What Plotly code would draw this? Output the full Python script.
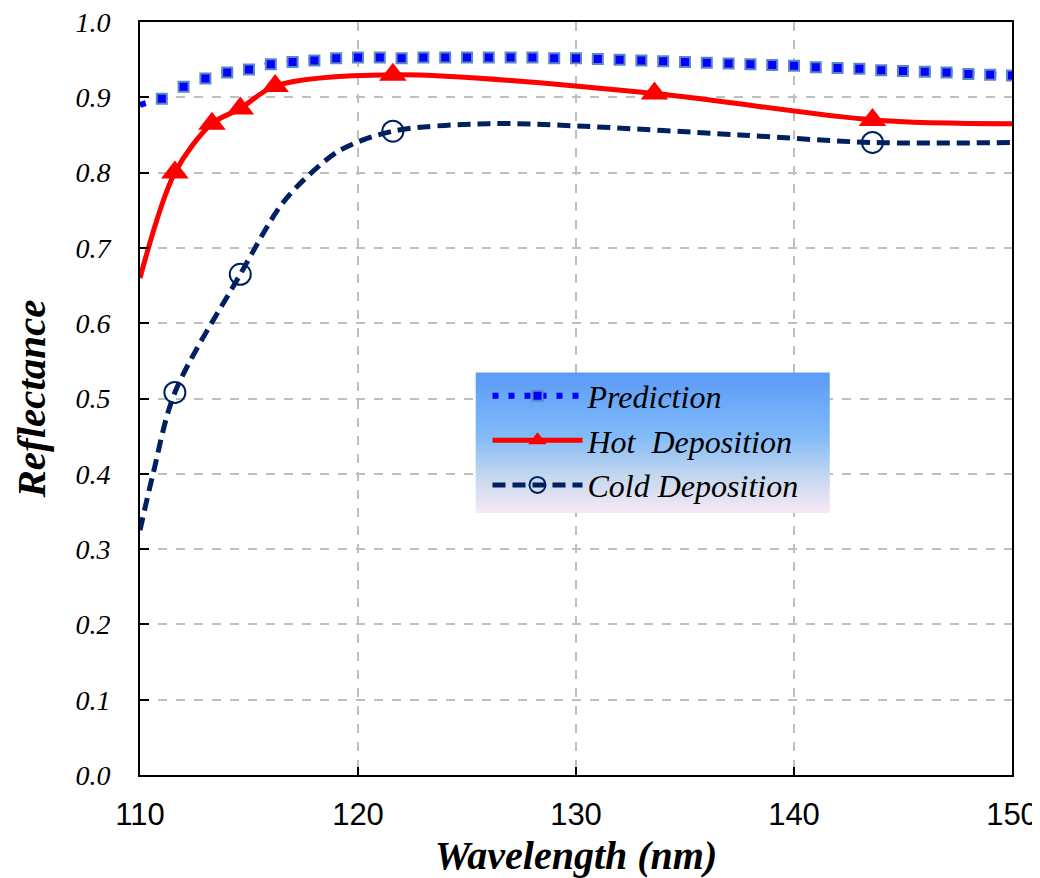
import plotly.graph_objects as go

# ---------------- data ----------------
pred_x = list(range(110, 151))
pred_y = [0.890, 0.898, 0.914, 0.925, 0.933, 0.937, 0.944, 0.947, 0.949, 0.952,
          0.953, 0.953, 0.952, 0.953, 0.953, 0.953, 0.953, 0.953, 0.953, 0.952,
          0.952, 0.951, 0.950, 0.949, 0.948, 0.947, 0.946, 0.945, 0.944, 0.943,
          0.942, 0.940, 0.939, 0.938, 0.936, 0.935, 0.934, 0.933, 0.931, 0.930,
          0.929]

hot_x = [110, 111.6, 113.3, 114.6, 116.2, 121.6, 133.6, 143.6, 150]
hot_y = [0.66, 0.80, 0.865, 0.885, 0.915, 0.93, 0.905, 0.87, 0.865]
hot_mx = [111.6, 113.3, 114.6, 116.2, 121.6, 133.6, 143.6]
hot_my = [0.80, 0.865, 0.885, 0.915, 0.93, 0.905, 0.87]

cold_x = [110, 110.6, 111.6, 114.6, 116.4, 117.5, 119.2, 121.6, 126, 130, 137.5, 143.6, 150]
cold_y = [0.325, 0.40, 0.508, 0.665, 0.754, 0.79, 0.83, 0.855, 0.865, 0.862, 0.85, 0.84, 0.84]
cold_mx = [111.6, 114.6, 121.6, 143.6]
cold_my = [0.508, 0.665, 0.855, 0.84]

x_ticks = [110, 120, 130, 140, 150]
y_ticks = [0.0, 0.1, 0.2, 0.3, 0.4, 0.5, 0.6, 0.7, 0.8, 0.9, 1.0]
names = ["Prediction", "Hot\u00a0 Deposition", "Cold Deposition"]

# ---------------- styles ----------------
BLUE = "#0000FF"
SQ_EDGE = "#5A87C8"
RED = "#FF0000"
NAVY = "#002060"
SERIF = "Liberation Serif, Times New Roman, serif"
NARROW = "Liberation Sans Narrow, Arial Narrow, Liberation Sans, sans-serif"

fig = go.Figure()

# Prediction
fig.add_trace(go.Scatter(x=pred_x, y=pred_y, mode="lines", showlegend=False,
                         line=dict(color=BLUE, width=6, dash="6px,16px")))
fig.add_trace(go.Scatter(x=pred_x[1:], y=pred_y[1:], mode="markers", showlegend=False,
                         marker=dict(symbol="square", size=10, color=BLUE,
                                     line=dict(color=SQ_EDGE, width=2))))
# Hot
fig.add_trace(go.Scatter(x=hot_x, y=hot_y, mode="lines", showlegend=False,
                         line=dict(color=RED, width=5, shape="spline", smoothing=0.9)))
fig.add_trace(go.Scatter(x=hot_mx, y=hot_my, mode="markers", showlegend=False,
                         marker=dict(symbol="triangle-up", size=24, color=RED)))
# Cold
fig.add_trace(go.Scatter(x=cold_x, y=cold_y, mode="lines", showlegend=False,
                         line=dict(color=NAVY, width=5, dash="13px,7px",
                                   shape="spline", smoothing=0.9)))
fig.add_trace(go.Scatter(x=cold_mx, y=cold_my, mode="markers", showlegend=False,
                         marker=dict(symbol="circle-open", size=21, color=NAVY,
                                     line=dict(color=NAVY, width=2))))

# legend entries
fig.add_trace(go.Scatter(x=[None], y=[None], mode="lines+markers", name=names[0],
                         line=dict(color=BLUE, width=6, dash="6px,10px"),
                         marker=dict(symbol="square", size=10, color=BLUE,
                                     line=dict(color=SQ_EDGE, width=2))))
fig.add_trace(go.Scatter(x=[None], y=[None], mode="lines+markers", name=names[1],
                         line=dict(color=RED, width=5),
                         marker=dict(symbol="triangle-up", size=16, color=RED)))
fig.add_trace(go.Scatter(x=[None], y=[None], mode="lines+markers", name=names[2],
                         line=dict(color=NAVY, width=5, dash="13px,7px"),
                         marker=dict(symbol="circle-open", size=16, color=NAVY,
                                     line=dict(color=NAVY, width=2))))

# legend gradient background
def lerp(c1, c2, t):
    return tuple(round(a + (b - a) * t) for a, b in zip(c1, c2))

stops = [(0.0, (91, 154, 248)), (0.45, (128, 186, 248)), (0.75, (198, 216, 238)), (1.0, (247, 232, 245))]
def grad(t):
    for (t0, c0), (t1, c1) in zip(stops[:-1], stops[1:]):
        if t <= t1:
            return lerp(c0, c1, (t - t0) / (t1 - t0))
    return stops[-1][1]

bx0, bx1, by0, by1 = 0.385, 0.791, 0.348, 0.534
n = 40
shapes = []
for i in range(n):
    t = (i + 0.5) / n
    c = grad(t)
    ya = by1 - (by1 - by0) * i / n
    yb = by1 - (by1 - by0) * (i + 1) / n
    shapes.append(dict(type="rect", xref="paper", yref="paper", x0=bx0, x1=bx1,
                       y0=yb, y1=ya + 0.0005, line=dict(width=0),
                       fillcolor="rgb(%d,%d,%d)" % c, layer="above"))

fig.update_layout(
    width=1032, height=870,
    margin=dict(l=132, r=28, t=14, b=103, autoexpand=False),
    plot_bgcolor="white", paper_bgcolor="white",
    shapes=shapes,
    showlegend=True,
    legend=dict(x=0.3985, y=0.540, xanchor="left", yanchor="top",
                bgcolor="rgba(0,0,0,0)", borderwidth=0, itemwidth=90,
                font=dict(family=SERIF, size=32, color="black", style="italic"),
                tracegroupgap=0),
    xaxis=dict(range=[110, 150], tickvals=x_ticks, ticktext=[str(v) for v in x_ticks],
               ticks="inside", ticklen=8, tickwidth=2, tickcolor="black",
               showline=True, linecolor="black", linewidth=2, mirror=True,
               showgrid=True, gridcolor="#BFBFBF", griddash="dash", gridwidth=1.5,
               zeroline=False, ticklabelstandoff=11, automargin=False,
               ticklabeloverflow="allow",
               tickfont=dict(family=NARROW, size=31, color="black"),
               title=dict(text="Wavelength (nm)", standoff=20,
                          font=dict(family=SERIF, size=40, color="black",
                                    weight="bold", style="italic"))),
    yaxis=dict(range=[0, 1.0], tickvals=y_ticks, ticktext=["%.1f" % v for v in y_ticks],
               ticks="inside", ticklen=9, tickwidth=2, tickcolor="black",
               showline=True, linecolor="black", linewidth=2, mirror=True,
               showgrid=True, gridcolor="#BFBFBF", griddash="dash", gridwidth=1.5,
               zeroline=False, ticklabelstandoff=22, automargin=False,
               ticklabeloverflow="allow",
               tickfont=dict(family=SERIF, size=28, color="black", style="italic"),
               title=dict(text="Reflectance", standoff=18,
                          font=dict(family=SERIF, size=41, color="black",
                                    weight="bold", style="italic"))),
)

fig.write_html("out.html")
